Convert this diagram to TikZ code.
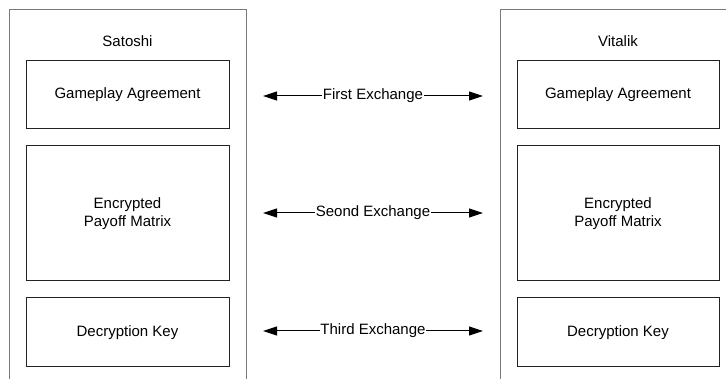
\documentclass[tikz,border=0pt]{standalone}
\usepackage{fontspec}
\setmainfont{Liberation Sans}
\usetikzlibrary{arrows.meta}
\definecolor{outergray}{HTML}{7A7A7A}
\definecolor{innerdark}{HTML}{222222}
\begin{document}
\begin{tikzpicture}[x=1pt,y=-1pt,
  every node/.style={font=\fontsize{15pt}{18pt}\selectfont},
  outerline/.style={draw=outergray, line width=1pt},
  ibox/.style={draw=innerdark, line width=1pt, minimum width=203pt, align=center, inner sep=0pt},
  xarrow/.style={draw=black, line width=1pt, {Triangle[length=14pt,width=9pt]}-{Triangle[length=14pt,width=9pt]}},
  xlabel/.style={fill=white, inner xsep=0.5pt, inner ysep=2pt}]
\useasboundingbox (0,0) rectangle (726,379);
% outer containers
\draw[outerline] (9,380) -- (9,10) -- (246,10) -- (246,380);
\draw[outerline] (500,380) -- (500,10) -- (727,10);
\node (sat) at (127.5,41) {Satoshi};
\node (vit) at (618,41) {Vitalik};
% left inner boxes
\node[ibox, minimum height=68pt] (lga) at (127.5,95) {Gameplay Agreement};
\node[ibox, minimum height=135pt] (lpm) at (127.5,213.5) {Encrypted\\Payoff Matrix};
\node[ibox, minimum height=69pt] (ldk) at (127.5,332.5) {Decryption Key};
% right inner boxes
\node[ibox, minimum width=202pt, minimum height=68pt] (rga) at (618,95) {Gameplay Agreement};
\node[ibox, minimum width=202pt, minimum height=135pt] (rpm) at (618,213.5) {Encrypted\\Payoff Matrix};
\node[ibox, minimum width=202pt, minimum height=69pt] (rdk) at (618,332.5) {Decryption Key};
% exchange arrows
\coordinate (e1l) at (263,96);
\coordinate (e1r) at (483,96);
\coordinate (e2l) at (263,213);
\coordinate (e2r) at (483,213);
\coordinate (e3l) at (263,331);
\coordinate (e3r) at (483,331);
\draw[xarrow] (e1l) -- node[xlabel] (x1) {First Exchange} (e1r);
\draw[xarrow] (e2l) -- node[xlabel] (x2) {Seond Exchange} (e2r);
\draw[xarrow] (e3l) -- node[xlabel] (x3) {Third Exchange} (e3r);
\end{tikzpicture}
\end{document}
